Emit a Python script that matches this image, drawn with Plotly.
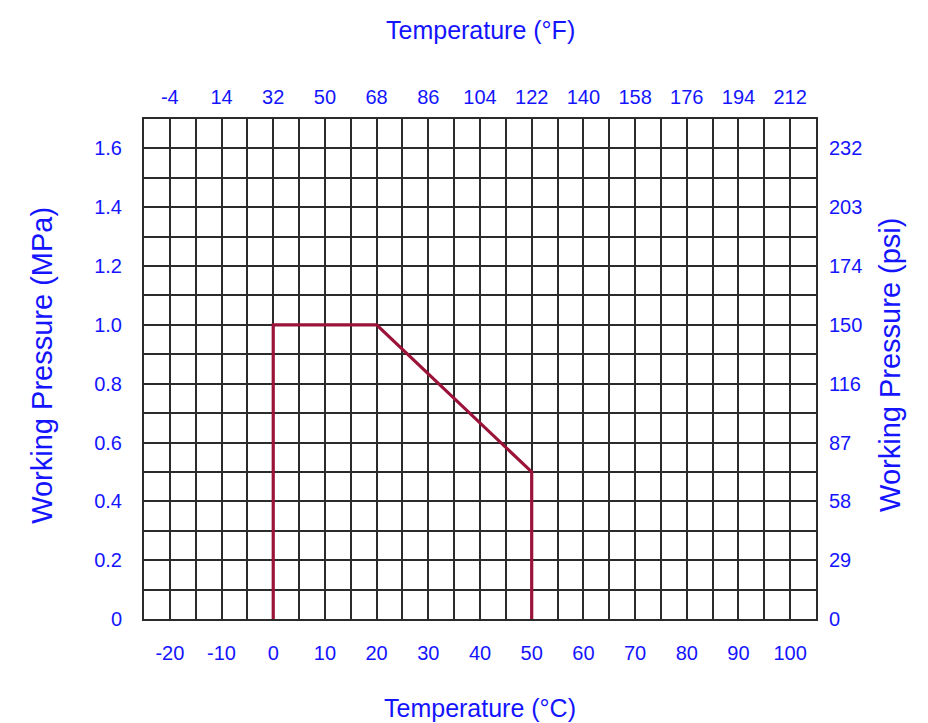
import plotly.graph_objects as go

# Operating envelope: temperature (°C) vs working pressure (MPa)
temp_c = [0, 0, 20, 50, 50]
pressure_mpa = [0, 1.0, 1.0, 0.5, 0]

# Axis ticks
c_ticks = [-20, -10, 0, 10, 20, 30, 40, 50, 60, 70, 80, 90, 100]
c_labels = ["-20", "-10", "0", "10", "20", "30", "40", "50", "60", "70", "80", "90", "100"]
f_labels = ["-4", "14", "32", "50", "68", "86", "104", "122", "140", "158", "176", "194", "212"]
mpa_ticks = [0, 0.2, 0.4, 0.6, 0.8, 1.0, 1.2, 1.4, 1.6]
mpa_labels = ["0", "0.2", "0.4", "0.6", "0.8", "1.0", "1.2", "1.4", "1.6"]
psi_labels = ["0", "29", "58", "87", "116", "150", "174", "203", "232"]

BLUE = "#1414ff"
GRID = "#2b2b2b"
LINE = "#9b1338"
FONT = "Liberation Sans, Arial, sans-serif"

x_range = [-25, 105]
y_range = [0, 1.7]

fig = go.Figure()
fig.add_trace(go.Scatter(
    x=temp_c, y=pressure_mpa, mode="lines",
    line=dict(color=LINE, width=3.2), hoverinfo="skip", showlegend=False,
))
# companion trace so the °F / psi axes are rendered
fig.add_trace(go.Scatter(
    x=temp_c, y=pressure_mpa, mode="lines", xaxis="x2", yaxis="y2",
    line=dict(color="rgba(0,0,0,0)", width=0), hoverinfo="skip", showlegend=False,
))

common_grid = dict(showgrid=True, gridcolor=GRID, gridwidth=1.5, zeroline=False)

fig.update_layout(
    width=928, height=723,
    margin=dict(l=144, r=112, t=119, b=104),
    paper_bgcolor="white", plot_bgcolor="white",
    font=dict(family=FONT, color=BLUE, size=20),
    xaxis=dict(
        range=x_range, tickvals=c_ticks, ticktext=c_labels, ticks="", ticklabelstandoff=15,
        minor=dict(dtick=5, tick0=0, showgrid=True, gridcolor=GRID, gridwidth=1.5),
        showline=True, linecolor=GRID, linewidth=2, mirror=True,
        tickfont=dict(size=20, color=BLUE), **common_grid,
    ),
    xaxis2=dict(
        range=x_range, overlaying="x", side="top", tickvals=c_ticks, ticktext=f_labels,
        ticks="", ticklabelstandoff=10, showgrid=False, zeroline=False,
        tickfont=dict(size=20, color=BLUE),
    ),
    yaxis=dict(
        range=y_range, tickvals=mpa_ticks, ticktext=mpa_labels, ticks="", ticklabelstandoff=16,
        minor=dict(dtick=0.1, tick0=0, showgrid=True, gridcolor=GRID, gridwidth=1.5),
        showline=True, linecolor=GRID, linewidth=2, mirror=True,
        tickfont=dict(size=20, color=BLUE), **common_grid,
    ),
    yaxis2=dict(
        range=y_range, overlaying="y", side="right", tickvals=mpa_ticks, ticktext=psi_labels,
        ticks="", ticklabelstandoff=12, showgrid=False, zeroline=False,
        tickfont=dict(size=20, color=BLUE),
    ),
    annotations=[
        dict(text="Temperature (°F)", xref="paper", yref="paper", x=0.5, y=1.178,
             showarrow=False, font=dict(size=25, color=BLUE), xanchor="center", yanchor="middle"),
        dict(text="Temperature (°C)", xref="paper", yref="paper", x=0.5, y=-0.178,
             showarrow=False, font=dict(size=25, color=BLUE), xanchor="center", yanchor="middle"),
        dict(text="Working Pressure (MPa)", xref="paper", yref="paper", x=-0.152, y=0.508,
             showarrow=False, textangle=-90, font=dict(size=29, color=BLUE),
             xanchor="center", yanchor="middle"),
        dict(text="Working Pressure (psi)", xref="paper", yref="paper", x=1.110, y=0.508,
             showarrow=False, textangle=-90, font=dict(size=29, color=BLUE),
             xanchor="center", yanchor="middle"),
    ],
)

fig.write_html("out.html")
